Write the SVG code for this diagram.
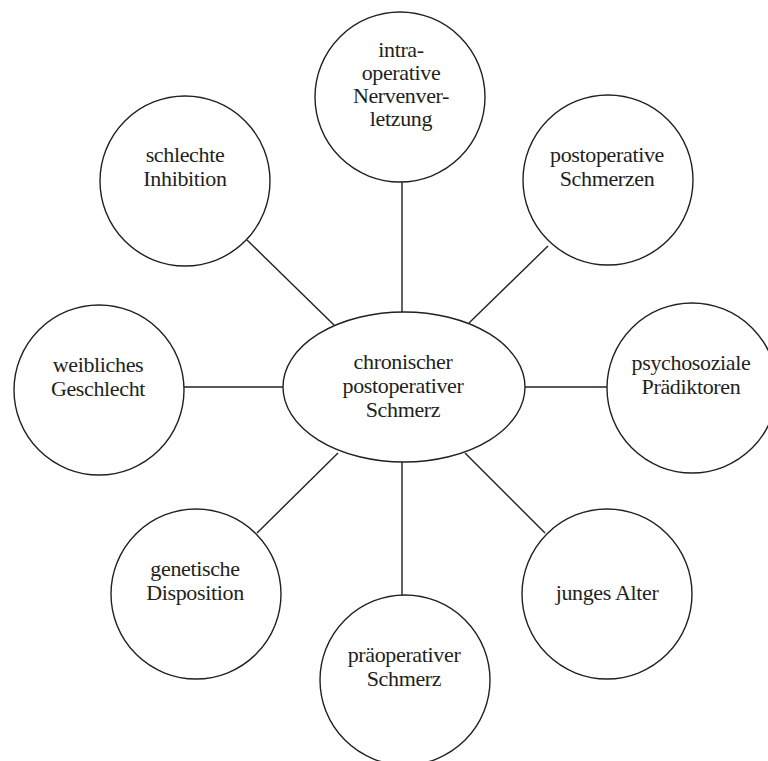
<svg xmlns="http://www.w3.org/2000/svg" width="768" height="761" viewBox="0 0 768 761">
<style>
.n{fill:#fff;stroke:#231f20;stroke-width:1.4}
.c line{stroke:#231f20;stroke-width:1.4}
text{font-family:"Liberation Serif","Times New Roman",serif;font-size:22px;letter-spacing:-0.35px;fill:#231f20;text-anchor:middle}
</style>
<rect width="768" height="761" fill="#fff"/>
<g class="c" id="connectors">
<line x1="402" y1="182" x2="402" y2="312"/>
<line x1="548" y1="246" x2="469" y2="323"/>
<line x1="525" y1="387" x2="607" y2="387"/>
<line x1="465" y1="453" x2="545" y2="533"/>
<line x1="402" y1="462" x2="402" y2="595"/>
<line x1="338" y1="453" x2="257" y2="533"/>
<line x1="184" y1="387" x2="283" y2="387"/>
<line x1="247" y1="240" x2="334" y2="325"/>
</g>
<g id="center">
<ellipse class="n" cx="404" cy="387" rx="121" ry="75"/>
<text x="403" y="369">chronischer</text>
<text x="403" y="393">postoperativer</text>
<text x="403" y="417">Schmerz</text>
</g>
<g id="nerv">
<circle class="n" cx="400" cy="97" r="85"/>
<text x="401" y="57">intra-</text>
<text x="401" y="80">operative</text>
<text x="401" y="103">Nervenver-</text>
<text x="401" y="126">letzung</text>
</g>
<g id="postop">
<circle class="n" cx="608" cy="180" r="85"/>
<text x="607" y="162">postoperative</text>
<text x="607" y="186">Schmerzen</text>
</g>
<g id="psycho">
<circle class="n" cx="692" cy="388" r="85"/>
<text x="691" y="370">psychosoziale</text>
<text x="691" y="394">Prädiktoren</text>
</g>
<g id="alter">
<circle class="n" cx="607" cy="594" r="85"/>
<text x="607" y="600">junges Alter</text>
</g>
<g id="praeop">
<circle class="n" cx="405" cy="680" r="85"/>
<text x="404" y="662">präoperativer</text>
<text x="404" y="686">Schmerz</text>
</g>
<g id="genetisch">
<circle class="n" cx="196" cy="594" r="85"/>
<text x="195" y="576">genetische</text>
<text x="195" y="600">Disposition</text>
</g>
<g id="weiblich">
<circle class="n" cx="99" cy="390" r="85"/>
<text x="98" y="372">weibliches</text>
<text x="98" y="396">Geschlecht</text>
</g>
<g id="inhibition">
<circle class="n" cx="185" cy="181" r="85"/>
<text x="185" y="162">schlechte</text>
<text x="185" y="186">Inhibition</text>
</g>
</svg>
